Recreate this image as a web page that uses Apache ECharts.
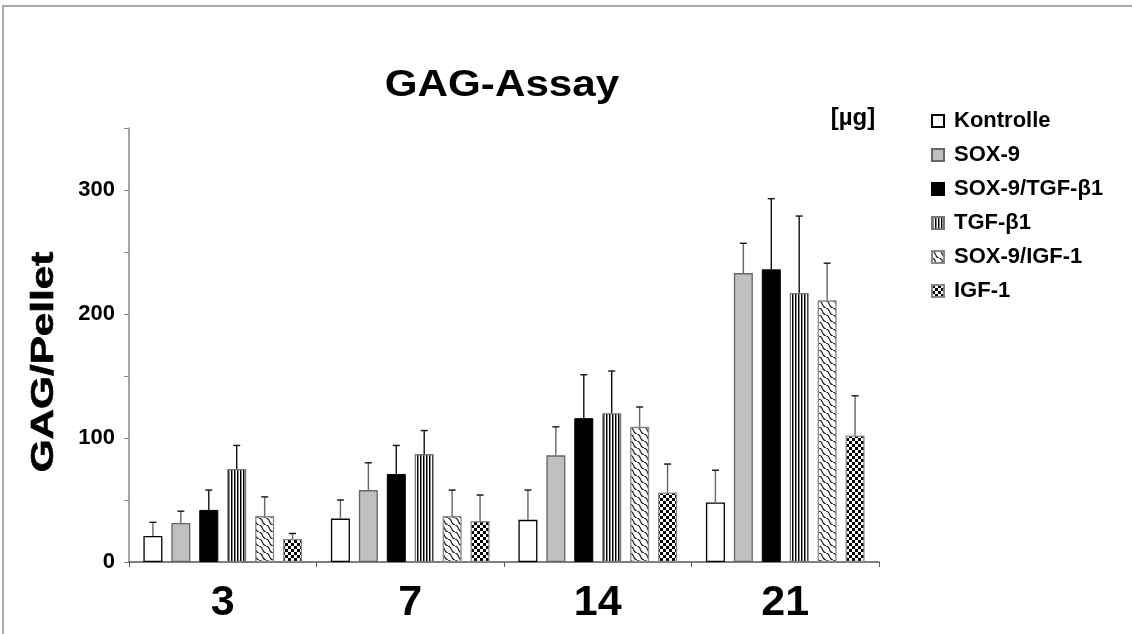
<!DOCTYPE html>
<html>
<head>
<meta charset="utf-8">
<script src="https://cdn.jsdelivr.net/npm/echarts@6/dist/echarts.min.js"></script>
<style>
  html, body { margin: 0; padding: 0; background: #fff; }
  #main { width: 1132px; height: 634px; }
</style>
</head>
<body>
<div id="main"></div>
<script>
// days
var categories = ["3", "7", "14", "21"];
// legend names
var seriesNames = ["Kontrolle", "SOX-9", "SOX-9/TGF-β1", "TGF-β1", "SOX-9/IGF-1", "IGF-1"];
// mean values per group
var kontrolle = [21, 35, 34, 48];
var sox9 = [31.5, 58, 86, 233];
var sox9Tgf = [42, 71, 116, 236];
var tgf = [75, 87, 120, 217];
var sox9Igf = [37, 37, 109, 211];
var igf = [18.5, 33, 56, 102];
// upper error (sd)
var kontrolleErr = [11, 15, 24, 26];
var sox9Err = [9.5, 22, 23, 24];
var sox9TgfErr = [16, 23, 35, 57];
var tgfErr = [19, 19, 34, 62];
var sox9IgfErr = [15.5, 21, 16, 30];
var igfErr = [4.5, 21, 23, 32];
// y ticks
var yMin = 0, yMax = 350, yStep = 50;

var values = [kontrolle, sox9, sox9Tgf, tgf, sox9Igf, igf];
var errors = [kontrolleErr, sox9Err, sox9TgfErr, tgfErr, sox9IgfErr, igfErr];

var BAR_W = 19;
var BAR_GAP = 0.47;
var FONT = "'Liberation Sans', Arial, sans-serif";

// patterns
function tile(w, h, draw) {
  var c = document.createElement("canvas");
  c.width = w;
  c.height = h;
  var ctx = c.getContext("2d");
  ctx.fillStyle = "#fff";
  ctx.fillRect(0, 0, w, h);
  draw(ctx);
  return { image: c, repeat: "repeat" };
}
var stripes = tile(3, 4, function(ctx) {
  ctx.fillStyle = "#000";
  ctx.fillRect(0, 0, 1, 4);
  ctx.fillStyle = "#888";
  ctx.fillRect(1, 0, 1, 4);
});
var waves = tile(7, 7, function(ctx) {
  ctx.strokeStyle = "#222";
  ctx.lineWidth = 1.1;
  ctx.beginPath();
  ctx.moveTo(0, 0);
  ctx.bezierCurveTo(5, 0.5, 2, 6.5, 7, 7);
  ctx.stroke();
});
var checker = tile(6, 6, function(ctx) {
  ctx.fillStyle = "#000";
  ctx.fillRect(0, 0, 3, 3);
  ctx.fillRect(3, 3, 3, 3);
});

var styles = [
  { color: "#fff", borderColor: "#000", borderWidth: 1.3 },
  { color: "#c0c0c0", borderColor: "#666", borderWidth: 1.3 },
  { color: "#000", borderColor: "#000", borderWidth: 1 },
  { color: stripes, borderColor: "#777", borderWidth: 1.3 },
  { color: waves, borderColor: "#888", borderWidth: 1.3 },
  { color: checker, borderColor: "#888", borderWidth: 1.3 }
];

var series = [];
seriesNames.forEach(function(name, i) {
  series.push({
    name: name,
    type: "bar",
    barWidth: BAR_W,
    barGap: BAR_GAP * 100 + "%",
    itemStyle: styles[i],
    data: values[i],
    z: 2
  });
});

// error bars, only the upper half
seriesNames.forEach(function(name, i) {
  series.push({
    type: "custom",
    z: 3,
    silent: true,
    data: values[i].map(function(v, k) {
      return [k, v, errors[i][k]];
    }),
    renderItem: function(params, api) {
      var step = BAR_W * (1 + BAR_GAP);
      var dx = (i - 2.5) * step;
      var base = api.coord([api.value(0), api.value(1)]);
      var top = api.coord([api.value(0), api.value(1) + api.value(2)]);
      var x = base[0] + dx;
      return {
        type: "group",
        children: [
          {
            type: "line",
            shape: { x1: x, y1: base[1], x2: x, y2: top[1] },
            style: { stroke: i == 2 || i == 3 ? "#111" : "#666", lineWidth: 1.4 }
          },
          {
            type: "line",
            shape: { x1: x - 3.5, y1: top[1], x2: x + 3.5, y2: top[1] },
            style: { stroke: "#111", lineWidth: 1.4 }
          }
        ]
      };
    }
  });
});

var option = {
  backgroundColor: "#fff",
  animation: false,
  grid: { left: 129, right: 253, top: 128, bottom: 72 },
  legend: {
    data: seriesNames,
    orient: "vertical",
    left: 926,
    top: 105,
    icon: "rect",
    itemWidth: 12,
    itemHeight: 12,
    itemGap: 12,
    selectedMode: false,
    textStyle: {
      fontFamily: FONT,
      fontSize: 22,
      fontWeight: "bold",
      color: "#000",
      lineHeight: 22,
      padding: [0, 0, 0, 5]
    }
  },
  xAxis: {
    type: "category",
    data: categories,
    axisLine: { lineStyle: { color: "#555", width: 1.5 } },
    axisTick: { show: true, length: 5, lineStyle: { color: "#555" } },
    axisLabel: {
      fontFamily: FONT,
      fontSize: 43,
      fontWeight: "bold",
      color: "#000",
      margin: 20
    }
  },
  yAxis: {
    type: "value",
    min: yMin,
    max: yMax,
    interval: yStep,
    splitLine: { show: false },
    axisLine: { show: true, lineStyle: { color: "#888", width: 1.5 } },
    axisTick: { show: true, length: 5, lineStyle: { color: "#888" } },
    axisLabel: {
      fontFamily: FONT,
      fontSize: 22,
      fontWeight: "bold",
      color: "#000",
      margin: 14,
      formatter: function(v) {
        return v % 100 == 0 ? String(v) : "";
      }
    }
  },
  graphic: [
    {
      type: "rect",
      shape: { x: 3, y: 6, width: 1200, height: 700 },
      style: { fill: "none", stroke: "#aaa", lineWidth: 2 },
      silent: true
    },
    {
      type: "text",
      x: 502,
      y: 86,
      scaleX: 1.14,
      style: {
        text: "GAG-Assay",
        fontFamily: FONT,
        fontSize: 37,
        fontWeight: "bold",
        fill: "#000",
        align: "center",
        verticalAlign: "middle"
      }
    },
    {
      type: "text",
      x: 853,
      y: 118,
      style: {
        text: "[µg]",
        fontFamily: FONT,
        fontSize: 24,
        fontWeight: "bold",
        fill: "#000",
        align: "center",
        verticalAlign: "middle"
      }
    },
    {
      type: "text",
      x: 44,
      y: 362,
      rotation: Math.PI / 2,
      scaleX: 1.32,
      style: {
        text: "GAG/Pellet",
        fontFamily: FONT,
        fontSize: 32,
        fontWeight: "bold",
        fill: "#000",
        stroke: "#000",
        lineWidth: 0.6,
        align: "center",
        verticalAlign: "middle"
      }
    }
  ],
  series: series
};

var chart = echarts.init(document.getElementById("main"));
chart.setOption(option);
</script>
</body>
</html>
